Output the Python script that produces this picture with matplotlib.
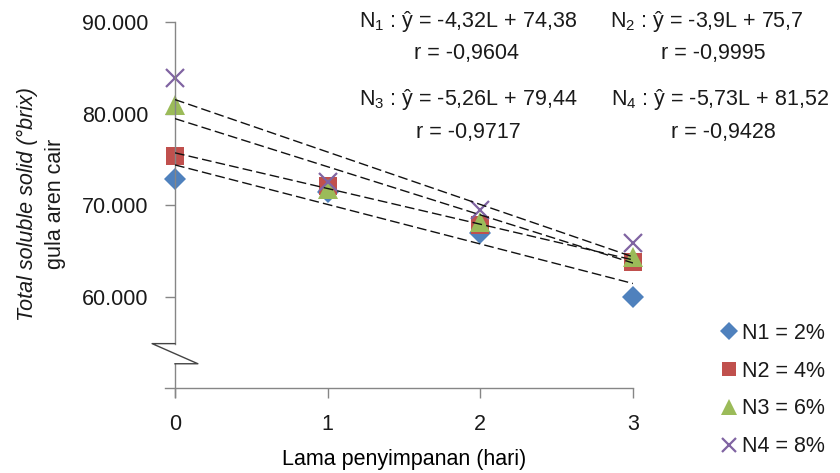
import numpy as np
import matplotlib.pyplot as plt
import matplotlib as mpl

mpl.rcParams.update({
    "font.family": "Liberation Sans",
    "mathtext.fontset": "custom",
    "mathtext.rm": "Liberation Sans",
    "mathtext.it": "Liberation Sans:italic",
    "text.color": "#1a1a1a",
})

days = [0, 1, 2, 3]
n1 = [72.8, 71.4, 66.9, 59.9]
n2 = [75.4, 72.1, 67.8, 63.8]
n3 = [80.9, 71.8, 68.1, 64.3]
n4 = [83.9, 72.5, 69.4, 65.9]
labels = ["N1 = 2%", "N2 = 4%", "N3 = 6%", "N4 = 8%"]

# regression (slope, intercept) from the equations on the chart
slopes = [-4.32, -3.9, -5.26, -5.73]
intercepts = [74.38, 75.7, 79.44, 81.52]
eq_texts = ["N$_1$ : ŷ = -4,32L + 74,38", "N$_2$ : ŷ = -3,9L + 75,7",
            "N$_3$ : ŷ = -5,26L + 79,44", "N$_4$ : ŷ = -5,73L + 81,52"]
r_texts = ["r = -0,9604", "r = -0,9995", "r = -0,9717", "r = -0,9428"]

colors = ["#4F81BD", "#C0504D", "#9BBB59", "#8064A2"]
markers = ["D", "s", "^", "x"]
sizes = [11, 13, 14, 13]

fig = plt.figure(figsize=(8.4, 4.73), dpi=100)
ax = fig.add_axes([175 / 840, 1 - 388 / 473, (633 - 175) / 840, (388 - 22) / 473])
ax.set_xlim(0, 3)
ax.set_ylim(50, 90)

xs = np.array([0, 3])
for a, b in zip(slopes, intercepts):
    ax.plot(xs, b + a * xs, color="#111111", lw=1.0, ls=(0, (7, 3)), zorder=3)

handles = []
for ys, c, m, s, lab in zip([n1, n2, n3, n4], colors, markers, sizes, labels):
    kw = dict(mew=1.6) if m == "x" else dict(mew=0)
    h, = ax.plot(days, ys, ls="none", marker=m, color=c, ms=s, label=lab,
                 clip_on=False, zorder=2, **kw)
    handles.append(h)

# axes drawn by hand (y axis has a break)
axc = "#868686"
for s in ax.spines.values():
    s.set_visible(False)
ax.plot([-0.065, 3], [50, 50], color=axc, lw=1, clip_on=False)
ax.plot([0, 0], [90, 54.85], color=axc, lw=1, clip_on=False)
ax.plot([0, 0], [52.65, 49], color=axc, lw=1, clip_on=False)
ax.plot([0, -0.15, 0.15, 0], [54.85, 54.85, 52.65, 52.65], color="#444444",
        lw=1, clip_on=False)

ax.set_yticks([60, 70, 80, 90])
ax.set_yticklabels(["60.000", "70.000", "80.000", "90.000"])
ax.set_xticks(days)
ax.tick_params(axis="both", color=axc, length=7, width=1, labelsize=15.5,
               labelcolor="#1a1a1a")
ax.tick_params(axis="y", pad=12)
ax.tick_params(axis="x", pad=12)

ax.set_xlabel("Lama penyimpanan (hari)", fontsize=15.5, labelpad=10)
fig.text(27 / 840, 1 - 204 / 473, "Total soluble solid (°brix)", rotation=90,
         style="italic", fontsize=15.5, ha="center", va="center")
fig.text(55 / 840, 1 - 204 / 473, "gula aren cair", rotation=90,
         fontsize=15.5, ha="center", va="center")

eq_pos = [(468, 21), (707, 21), (468, 99), (720, 99)]
r_pos = [(467, 54), (713, 54), (468, 132), (723, 132)]
for t, (x, y) in zip(eq_texts, eq_pos):
    fig.text(x / 840, 1 - y / 473, t, fontsize=15.5, ha="center", va="center")
for t, (x, y) in zip(r_texts, r_pos):
    fig.text(x / 840, 1 - y / 473, t, fontsize=15.5, ha="center", va="center")

fig.legend(handles=handles, loc="upper left",
           bbox_to_anchor=(710 / 840, 1 - 312 / 473),
           frameon=False, fontsize=15.5, handlelength=0.8, handletextpad=0.2,
           labelspacing=0.78, markerscale=0.8, borderpad=0)

fig.savefig("out.png", dpi=100)
